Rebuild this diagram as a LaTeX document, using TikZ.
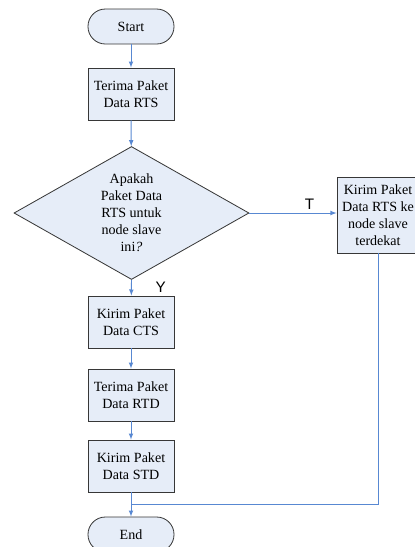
\documentclass[tikz,border=0pt]{standalone}
\usepackage{fontspec}
\setmainfont{Liberation Serif}
\newfontfamily\hurufsans{Liberation Sans}
\usetikzlibrary{shapes.geometric}
\definecolor{isikotak}{RGB}{230,237,248}
\definecolor{garispanah}{RGB}{88,136,210}
\definecolor{garistepi}{RGB}{55,55,55}

\begin{document}
\begin{tikzpicture}[x=0.03cm,y=-0.03cm,
	proses/.style={draw=garistepi, fill=isikotak, line width=0.7pt,
		minimum width=2.58cm, minimum height=1.56cm, inner sep=1pt,
		align=center, font=\fontsize{12}{14.5}\selectfont},
	terminal/.style={proses, rounded corners=0.52cm,
		minimum height=1.05cm},
	keputusan/.style={proses, diamond, aspect=1.77, inner sep=0pt,
		minimum width=7.05cm, minimum height=3.99cm},
	alur/.style={draw=garispanah, line width=0.8pt},
	panah/.style={alur, -latex},
	tanda/.style={font=\hurufsans\fontsize{13}{14}\selectfont}]
	\def\XTENGAH{131}
	%batas gambar
	\useasboundingbox (0,0) rectangle (415,547);
	%simpul-simpul diagram alir
	\node [terminal] (mulai) at (\XTENGAH,26.5) {Start};
	\node [proses] (terimarts) at (\XTENGAH,94) {Terima Paket\\Data RTS};
	\node [keputusan] (cek) at (131.5,213) {Apakah\\Paket Data\\RTS untuk\\node slave\\ini\textit{?}};
	\node [proses, minimum width=2.46cm, minimum height=2.28cm] (teruskan) at (378,215)
		{Kirim Paket\\Data RTS ke\\node slave\\terdekat};
	\node [proses] (kirimcts) at (\XTENGAH,322) {Kirim Paket\\Data CTS};
	\node [proses] (terimartd) at (\XTENGAH,395) {Terima Paket\\Data RTD};
	\node [proses] (kirimstd) at (\XTENGAH,466) {Kirim Paket\\Data STD};
	\node [terminal] (selesai) at (\XTENGAH,534.5) {End};
	\coordinate (gabung) at (\XTENGAH,504);
	%garis penghubung
	\draw [panah] (mulai) -- (terimarts);
	\draw [panah] (terimarts) -- (cek);
	\draw [panah] (cek.east) -- node [tanda, pos=0.69, above=-1pt] {T} (teruskan.west |- cek.east);
	\draw [panah] (cek.south) -- node [tanda, right=17pt] {Y} (kirimcts);
	\draw [panah] (kirimcts) -- (terimartd);
	\draw [panah] (terimartd) -- (kirimstd);
	\draw [panah] (kirimstd) -- (selesai);
	\draw [alur] (teruskan.south) |- (gabung);
\end{tikzpicture}
\end{document}
